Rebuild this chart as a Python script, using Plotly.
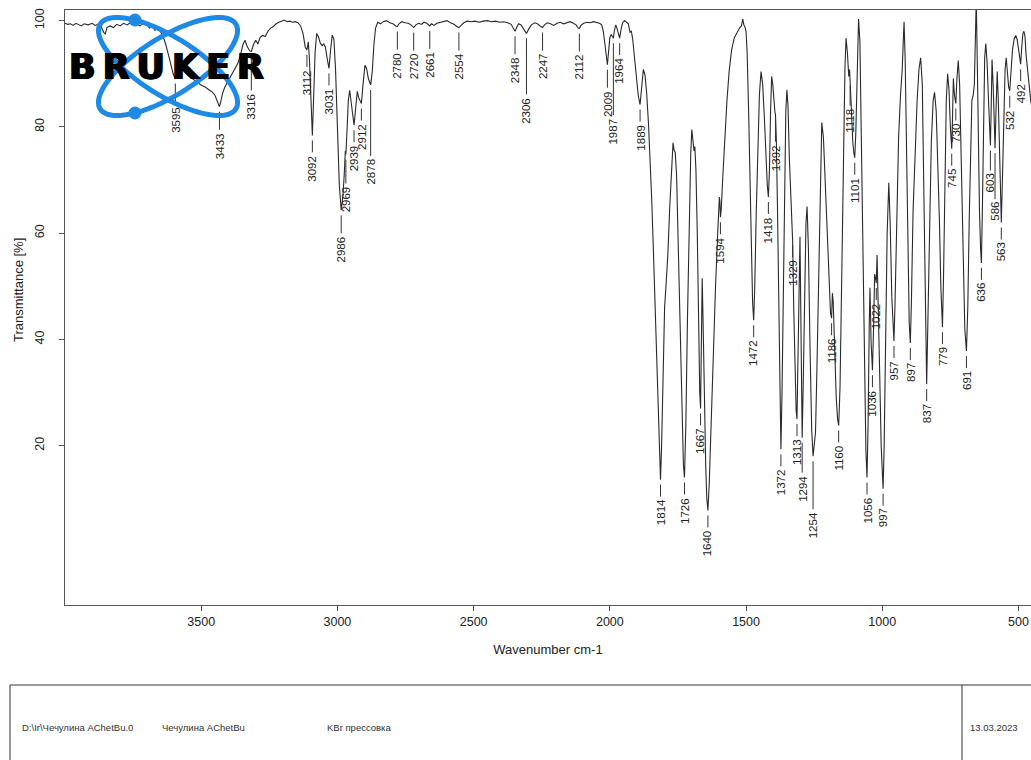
import math
import plotly.graph_objects as go

# ---------------- data ----------------
wavenumber = [
    4000, 3990, 3980, 3970, 3960, 3950, 3940, 3930, 3915, 3900, 3890, 3880, 3868, 3858, 3852, 3846,
    3835, 3822, 3810, 3798, 3785, 3772, 3760, 3748, 3738, 3725, 3712, 3700, 3690, 3680, 3670, 3660,
    3650, 3640, 3630, 3620, 3610, 3602, 3595, 3588, 3580, 3570, 3560, 3548, 3535, 3522, 3510, 3498,
    3485, 3472, 3460, 3450, 3442, 3437, 3433, 3428, 3422, 3414, 3405, 3395, 3385, 3375, 3365, 3355,
    3346, 3339, 3332, 3322, 3316, 3308, 3300, 3292, 3284, 3275, 3265, 3255, 3245, 3235, 3225, 3215,
    3205, 3195, 3185, 3175, 3165, 3155, 3145, 3135, 3126, 3118, 3112, 3107, 3103, 3098, 3092, 3087,
    3082, 3076, 3070, 3063, 3056, 3050, 3044, 3038, 3031, 3025, 3019, 3013, 3007, 3000, 2993, 2986,
    2980, 2975, 2971, 2969, 2965, 2960, 2955, 2950, 2944, 2939, 2933, 2927, 2922, 2917, 2912, 2906,
    2899, 2893, 2886, 2878, 2872, 2866, 2860, 2852, 2842, 2832, 2820, 2808, 2796, 2786, 2780, 2774,
    2764, 2752, 2740, 2730, 2720, 2712, 2702, 2692, 2682, 2672, 2666, 2661, 2655, 2645, 2635, 2622,
    2610, 2598, 2585, 2572, 2562, 2554, 2546, 2536, 2524, 2510, 2496, 2480, 2465, 2450, 2435, 2420,
    2405, 2390, 2375, 2362, 2355, 2348, 2342, 2335, 2326, 2316, 2306, 2298, 2288, 2276, 2266, 2256,
    2247, 2240, 2230, 2218, 2206, 2194, 2182, 2170, 2158, 2146, 2134, 2124, 2116, 2112, 2106, 2096,
    2084, 2072, 2060, 2048, 2038, 2030, 2024, 2018, 2013, 2009, 2004, 2000, 1995, 1990, 1987, 1983,
    1978, 1972, 1967, 1964, 1959, 1953, 1946, 1939, 1932, 1926, 1921, 1916, 1910, 1903, 1896, 1889,
    1883, 1877, 1871, 1865, 1858, 1852, 1846, 1840, 1834, 1828, 1822, 1818, 1814, 1810, 1805, 1799,
    1794, 1787, 1780, 1773, 1768, 1764, 1760, 1755, 1749, 1742, 1735, 1730, 1726, 1721, 1715, 1709,
    1703, 1699, 1695, 1691, 1688, 1684, 1679, 1674, 1670, 1667, 1664, 1661, 1658, 1653, 1648, 1644,
    1640, 1635, 1628, 1620, 1612, 1604, 1598, 1596, 1594, 1591, 1586, 1578, 1570, 1562, 1553, 1543,
    1533, 1524, 1517, 1512, 1508, 1504, 1500, 1496, 1491, 1486, 1481, 1476, 1472, 1468, 1463, 1457,
    1451, 1445, 1439, 1433, 1427, 1422, 1418, 1414, 1410, 1406, 1402, 1397, 1394, 1392, 1389, 1385,
    1381, 1377, 1372, 1368, 1363, 1358, 1354, 1350, 1346, 1341, 1336, 1333, 1331, 1329, 1325, 1320,
    1316, 1313, 1309, 1305, 1302, 1299, 1296, 1294, 1290, 1285, 1280, 1276, 1271, 1265, 1259, 1254,
    1249, 1245, 1240, 1234, 1228, 1222, 1216, 1209, 1202, 1195, 1190, 1186, 1183, 1180, 1175, 1169,
    1164, 1160, 1155, 1149, 1143, 1137, 1133, 1128, 1123, 1120, 1118, 1114, 1108, 1104, 1101, 1097,
    1092, 1087, 1082, 1077, 1071, 1065, 1060, 1056, 1052, 1048, 1045, 1041, 1036, 1032, 1028, 1025,
    1022, 1019, 1015, 1010, 1004, 1000, 997, 993, 988, 982, 976, 971, 965, 960, 957, 953,
    947, 940, 933, 927, 923, 920, 916, 911, 906, 901, 897, 893, 887, 880, 872, 865,
    859, 853, 848, 843, 840, 837, 833, 827, 820, 813, 808, 802, 796, 790, 785, 779,
    775, 770, 765, 760, 755, 750, 745, 742, 739, 735, 732, 730, 726, 721, 716, 710,
    704, 697, 691, 686, 681, 676, 671, 666, 662, 658, 655, 652, 648, 643, 639, 636,
    632, 628, 624, 620, 615, 610, 606, 603, 600, 597, 593, 589, 586, 582, 578, 574,
    570, 566, 563, 559, 554, 549, 545, 540, 536, 532, 528, 522, 516, 510, 505, 499,
    495, 492, 488, 484, 480, 476, 472, 467, 461, 455, 449, 443,
]
transmittance = [
    99.5, 99.3, 99.4, 99.1, 99.5, 99.2, 99.0, 99.4, 99.2, 99.5, 99.1, 99.3, 98.9, 97.8, 97.5, 98.7,
    99.0, 98.7, 99.3, 99.0, 99.5, 99.2, 99.6, 99.1, 99.4, 99.0, 99.5, 99.3, 98.6, 98.9, 98.2, 98.5,
    98.0, 97.0, 95.5, 93.5, 91.5, 89.8, 89.1, 91.0, 91.4, 90.8, 90.3, 89.6, 89.2, 88.6, 88.2, 87.8,
    87.5, 87.0, 86.6, 86.0, 85.0, 84.3, 83.8, 84.8, 86.2, 87.4, 88.2, 89.2, 90.2, 91.0, 92.0, 93.8,
    95.6, 96.3, 95.2, 94.3, 94.2, 95.5, 96.3, 95.6, 96.8, 97.2, 97.0, 98.0, 98.6, 98.9, 99.4, 99.7,
    99.9, 100.1, 99.8, 99.9, 99.7, 99.8, 99.6, 99.0, 97.5, 95.0, 94.5, 96.0, 93.0, 85.0, 78.4, 86.0,
    94.0, 97.6, 97.0, 95.8, 95.3, 95.6, 95.0, 93.0, 91.0, 94.5, 97.3, 96.5, 91.0, 80.0, 69.0, 64.3,
    67.0, 71.0, 75.5, 74.8, 79.0, 85.0, 86.9, 84.8, 81.5, 80.3, 83.5, 86.7, 85.5, 85.0, 84.4, 88.0,
    91.6, 91.0, 89.0, 87.9, 90.5, 95.5, 98.6, 99.7, 99.4, 99.8, 100.0, 99.6, 99.4, 99.0, 98.9, 99.4,
    99.8, 99.6, 99.5, 99.2, 98.7, 99.2, 99.5, 99.3, 99.7, 99.5, 99.3, 99.0, 99.4, 99.1, 99.5, 99.7,
    99.9, 100.0, 99.6, 99.3, 98.9, 98.7, 99.1, 99.6, 99.9, 99.8, 99.9, 99.7, 99.9, 100.0, 99.8, 99.9,
    99.7, 99.8, 99.6, 99.3, 98.6, 98.0, 98.7, 99.4, 99.2, 98.4, 97.6, 98.4, 99.2, 99.6, 99.4, 99.0,
    98.7, 99.2, 99.6, 99.4, 99.1, 99.5, 99.7, 99.4, 99.6, 99.8, 99.5, 99.2, 98.6, 98.5, 99.1, 99.5,
    99.7, 99.6, 99.8, 99.7, 99.5, 99.2, 98.0, 95.5, 93.0, 91.7, 94.5, 96.8, 97.4, 96.9, 96.7, 98.2,
    99.2, 98.2, 96.9, 96.7, 98.3, 99.6, 100.0, 99.7, 99.4, 97.8, 98.0, 96.5, 93.5, 89.5, 86.0, 84.2,
    88.0, 90.8, 89.8, 86.5, 80.5, 74.0, 66.0, 56.5, 46.0, 35.0, 23.0, 16.0, 13.6, 20.0, 32.0, 46.0,
    50.0, 56.0, 65.0, 72.5, 77.0, 75.6, 75.2, 71.0, 58.0, 40.0, 24.0, 16.5, 14.0, 24.0, 44.0, 62.0,
    75.0, 79.5, 77.5, 75.5, 76.3, 72.0, 60.0, 42.0, 30.0, 27.0, 38.0, 51.5, 44.0, 28.0, 16.0, 10.0,
    7.8, 13.0, 25.0, 38.0, 50.0, 60.0, 66.8, 66.0, 63.0, 64.5, 70.0, 78.0, 85.0, 90.5, 94.5, 96.8,
    97.8, 98.6, 99.0, 100.3, 99.2, 98.8, 98.0, 94.0, 84.0, 70.0, 56.0, 47.0, 43.6, 50.0, 63.0, 77.0,
    86.0, 90.4, 88.0, 82.0, 74.0, 69.0, 66.8, 72.0, 83.0, 89.5, 88.0, 84.0, 82.8, 82.3, 78.0, 66.0,
    48.0, 30.0, 19.3, 30.0, 52.0, 72.0, 83.0, 87.0, 84.0, 74.0, 65.0, 63.8, 61.0, 58.7, 46.0, 32.0,
    26.5, 25.0, 38.0, 55.0, 59.3, 45.0, 30.0, 21.5, 32.0, 50.0, 62.0, 65.0, 57.0, 38.0, 23.0, 18.0,
    20.0, 22.5, 34.0, 52.0, 69.0, 80.8, 78.0, 69.0, 59.0, 50.0, 45.0, 44.0, 48.7, 47.0, 38.0, 29.0,
    25.0, 23.8, 31.0, 52.0, 75.0, 91.0, 96.7, 94.0, 89.5, 90.8, 88.7, 83.0, 77.0, 75.0, 74.2, 79.0,
    90.0, 100.3, 96.0, 80.0, 55.0, 33.0, 19.0, 14.0, 24.0, 42.0, 49.7, 39.5, 34.2, 42.0, 52.3, 51.6,
    50.6, 55.9, 48.0, 35.0, 20.0, 13.5, 11.9, 20.0, 40.0, 60.0, 69.5, 62.0, 48.0, 41.0, 39.7, 47.0,
    63.0, 78.0, 86.0, 90.5, 96.0, 99.8, 93.0, 75.0, 56.0, 43.0, 39.3, 47.0, 64.0, 76.0, 85.0, 91.0,
    93.0, 88.0, 72.0, 50.0, 38.0, 31.6, 42.0, 62.0, 77.0, 85.0, 86.5, 83.0, 74.0, 62.0, 50.0, 42.3,
    52.0, 72.0, 85.0, 90.0, 87.0, 80.0, 75.9, 82.0, 89.1, 86.0, 85.0, 84.4, 89.0, 92.5, 88.0, 74.0,
    56.0, 42.0, 37.8, 46.0, 62.0, 77.0, 85.0, 86.0, 88.0, 97.0, 104.0, 95.0, 80.0, 64.0, 57.0, 54.4,
    66.0, 84.0, 93.0, 95.7, 92.0, 85.0, 79.0, 76.5, 84.0, 92.7, 88.0, 80.0, 76.0, 84.0, 90.4, 85.0,
    74.0, 66.0, 62.0, 70.0, 84.0, 91.0, 93.0, 90.0, 87.5, 86.8, 89.5, 94.5, 96.5, 97.2, 96.5, 94.0,
    92.5, 91.8, 95.0, 97.5, 98.0, 97.0, 93.5, 91.5, 88.0, 85.0, 83.0, 86.0,
]

peak_wavenumbers = [
    3595, 3433, 3316, 3112, 3092, 3031, 2986, 2969, 2939, 2912, 2878, 2780, 2720, 2661, 2554,
    2348, 2306, 2247, 2112, 2009, 1987, 1964, 1889, 1814, 1726, 1667, 1640, 1594, 1472, 1418,
    1392, 1372, 1329, 1313, 1294, 1254, 1186, 1160, 1118, 1101, 1056, 1036, 1022, 997, 957,
    897, 837, 779, 745, 730, 691, 636, 603, 586, 563, 532, 492,
]

x_tick_values = [3500, 3000, 2500, 2000, 1500, 1000, 500]
y_tick_values = [20, 40, 60, 80, 100]

x_title = "Wavenumber cm-1"
y_title = "Transmittance [%]"
footer_texts = ["D:\\Ir\\Чечулина AChetBu.0", "Чечулина AChetBu", "KBr прессовка"]
footer_date = "13.03.2023"

# ---------------- layout constants ----------------
W, H = 1031, 760
ML, MR, MT, MB = 65, 0, 10, 155
PW, PH = W - ML - MR, H - MT - MB


def px(xpix):
    return (xpix - ML) / PW


def py(ypix):
    return (H - MB - ypix) / PH


FAM = "Liberation Sans, Arial, sans-serif"
LABEL_FONT = dict(family=FAM, size=11.5, color="#222")
AXIS_COLOR = "#555"
LINE_COLOR = "#333"

# leader-line lengths (pixels) for labels whose line is longer than default
leader = {3316: 34, 2878: 66, 2306: 56, 1987: 72, 2969: 24, 1294: 30, 1254: 48, 586: 46,
          603: 20, 1118: 20, 1392: 22, 2986: 18, 3595: 20, 3433: 18, 2780: 18, 2720: 18,
          2661: 18, 2554: 18, 2348: 18, 2247: 18, 2112: 18, 2009: 18}
DEFAULT_LEADER = 12
GAP = 5

fig = go.Figure()
fig.add_trace(go.Scatter(
    x=wavenumber, y=transmittance, mode="lines",
    line=dict(color="#2a2a2a", width=1.1), hoverinfo="skip", showlegend=False,
))

t_lookup = dict(zip(wavenumber, transmittance))
for wn in peak_wavenumbers:
    L = leader.get(wn, DEFAULT_LEADER)
    tv = t_lookup[wn]
    fig.add_shape(type="line", xref="x", yref="y", x0=wn, x1=wn,
                  ysizemode="pixel", yanchor=tv, y0=-GAP, y1=-(GAP + L),
                  line=dict(color=LINE_COLOR, width=1))
    fig.add_annotation(
        x=wn, y=tv, xref="x", yref="y", text=str(wn), textangle=-90,
        showarrow=False, xanchor="center", yanchor="top",
        yshift=-(GAP + L + 2), font=LABEL_FONT, borderpad=0,
    )

# ---------------- Bruker logo (decorative) ----------------
BLUE = "#1f8ae6"


def ellipse_path(cx, cy, a, b, theta_deg, n=90):
    th = math.radians(theta_deg)
    pts = []
    for i in range(n):
        t = 2 * math.pi * i / n
        x = cx + a * math.cos(t) * math.cos(th) - b * math.sin(t) * math.sin(th)
        y = cy + a * math.cos(t) * math.sin(th) + b * math.sin(t) * math.cos(th)
        pts.append((px(x), py(y)))
    return "M " + " L ".join(f"{u:.5f},{v:.5f}" for u, v in pts) + " Z"


for ang in (32, -32):
    fig.add_shape(type="path", xref="paper", yref="paper",
                  path=ellipse_path(168, 66.5, 80, 29, ang),
                  line=dict(color=BLUE, width=5), layer="above")
for (cxp, cyp) in ((135, 20), (135, 113)):
    r = 6.5
    fig.add_shape(type="circle", xref="paper", yref="paper",
                  x0=px(cxp - r), x1=px(cxp + r), y0=py(cyp + r), y1=py(cyp - r),
                  fillcolor=BLUE, line=dict(color=BLUE, width=0), layer="above")
for dx in (-1, 0, 1):
    fig.add_annotation(x=px(166), y=py(67), xref="paper", yref="paper", xshift=dx,
                       text="B\u2009R\u2009U\u2009K\u2009E\u2009R", showarrow=False,
                       xanchor="center", yanchor="middle",
                       font=dict(family="DejaVu Sans", size=35, color="#000", weight="bold"))

# ---------------- footer box ----------------
fig.add_shape(type="rect", xref="paper", yref="paper",
              x0=px(10), x1=px(1045), y0=py(685), y1=py(800),
              line=dict(color="#333", width=1), fillcolor="rgba(0,0,0,0)")
fig.add_shape(type="line", xref="paper", yref="paper",
              x0=px(962), x1=px(962), y0=py(685), y1=py(800),
              line=dict(color="#333", width=1))
FOOT_FONT = dict(family=FAM, size=9.5, color="#333")
for xpix, txt in zip((20, 160, 325), footer_texts):
    fig.add_annotation(x=px(xpix), y=py(727), xref="paper", yref="paper", text=txt,
                       showarrow=False, xanchor="left", yanchor="middle", font=FOOT_FONT)
fig.add_annotation(x=px(968), y=py(727), xref="paper", yref="paper", text=footer_date,
                   showarrow=False, xanchor="left", yanchor="middle", font=FOOT_FONT)

# y title as annotation
fig.add_annotation(x=px(18), y=py(290), xref="paper", yref="paper", text=y_title,
                   textangle=-90, showarrow=False, xanchor="center", yanchor="middle",
                   font=dict(family=FAM, size=13, color="#222"))

fig.update_layout(
    width=W, height=H, margin=dict(l=ML, r=MR, t=MT, b=MB, autoexpand=False),
    paper_bgcolor="white", plot_bgcolor="white",
    font=dict(family=FAM, color="#222"),
    xaxis=dict(range=[4000, 454], tickvals=x_tick_values, ticks="outside", ticklen=5,
               tickcolor=AXIS_COLOR, showline=True, linecolor=AXIS_COLOR, mirror=True,
               showgrid=False, zeroline=False, tickfont=dict(size=12.5),
               title=dict(text=x_title, font=dict(size=13), standoff=16), automargin=False),
    yaxis=dict(range=[-10, 102], tickvals=y_tick_values, ticks="outside", ticklen=5,
               tickangle=-90, tickcolor=AXIS_COLOR, showline=True, linecolor=AXIS_COLOR,
               mirror=False, showgrid=False, zeroline=False, tickfont=dict(size=12.5),
               ticklabelstandoff=10, automargin=False),
    showlegend=False,
)

fig.write_html("out.html", config={"displayModeBar": False},
               post_script="document.body.style.margin='0';")
